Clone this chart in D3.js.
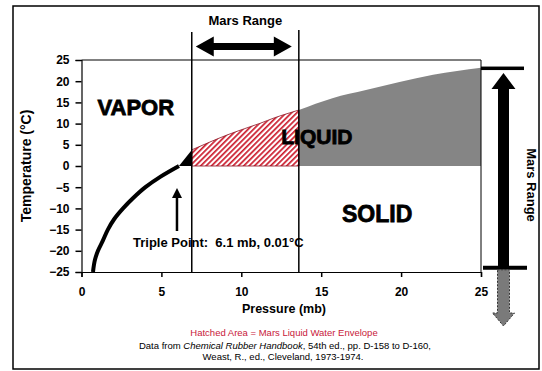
<!DOCTYPE html>
<html><head><meta charset="utf-8">
<script src="https://cdn.jsdelivr.net/npm/d3@7"></script>
<style>
html,body{margin:0;padding:0;background:#fff;}
svg{display:block;}
text{font-family:"Liberation Sans",Arial,sans-serif;}
</style></head>
<body>
<script>
// ---- data ----
const xTicks = [0, 5, 10, 15, 20, 25];
const yTicks = [25, 20, 15, 10, 5, 0, -5, -10, -15, -20, -25];
// sublimation (solid-vapor) curve
const iceTemp = [-25, -22, -20, -17.5, -15, -12.5, -10, -7.5, -5, -2.5, 0.01];
const icePressure = [0.72, 0.85, 1.03, 1.35, 1.65, 2.05, 2.6, 3.25, 4.0, 4.95, 6.1];
// evaporation (liquid-vapor) curve
const liqPressure = [6.1, 6.9, 8.0, 9.1, 10.2, 11.2, 12.1, 13.0, 13.6, 15.7, 17.8, 19.9, 22.0, 25.0];
const liqTemp = [0.01, 3.8, 5.6, 7.3, 8.8, 10.1, 11.4, 12.5, 13.2, 16.0, 17.9, 19.8, 21.5, 23.2];
const marsPressure = [6.9, 13.6];
const marsTemp = [23.1, -24];
const triplePoint = [6.1, 0.01];
const labels = {vapor: "VAPOR", liquid: "LIQUID", solid: "SOLID"};

const W = 542, H = 371;
const svg = d3.select("body").append("svg").attr("width", W).attr("height", H);

const x = d3.scaleLinear().domain([0, 25]).range([81.5, 481]);
const y = d3.scaleLinear().domain([-25, 25]).range([272, 60]);

const defs = svg.append("defs");
const pat = defs.append("pattern").attr("id", "hatch").attr("patternUnits", "userSpaceOnUse")
  .attr("width", 3.8).attr("height", 10).attr("patternTransform", "rotate(45)");
pat.append("rect").attr("width", 3.8).attr("height", 10).attr("fill", "#fff");
pat.append("rect").attr("width", 1.7).attr("height", 10).attr("fill", "#cc1f30");

// outer border
svg.append("rect").attr("x", 13).attr("y", 6).attr("width", 526).attr("height", 363)
  .attr("fill", "none").attr("stroke", "#000").attr("stroke-width", 1.5);

const liq = liqPressure.map((p, i) => [p, liqTemp[i]]);
const area = (lo, hi) => d3.area().curve(d3.curveMonotoneX)
  .x(d => x(d[0])).y0(y(0)).y1(d => y(d[1]))(interp(lo, hi));
function interp(lo, hi) {
  const f = d3.scaleLinear().domain(liqPressure).range(liqTemp);
  const pts = [[lo, f(lo)]];
  liq.forEach(d => { if (d[0] > lo && d[0] < hi) pts.push(d); });
  pts.push([hi, f(hi)]);
  return pts;
}
// gray liquid region beyond Mars range
svg.append("path").attr("d", area(marsPressure[1], 25)).attr("fill", "#858585");
// hatched Mars liquid envelope
svg.append("path").attr("d", area(marsPressure[0], marsPressure[1])).attr("fill", "url(#hatch)")
  .attr("stroke", "#8a1020").attr("stroke-width", 0.8);
// black region near triple point
svg.append("path").attr("d", area(triplePoint[0], marsPressure[0])).attr("fill", "#000");

// plot frame
const g = svg.append("g");
g.append("line").attr("x1", x(0)).attr("x2", x(25)).attr("y1", y(25)).attr("y2", y(25)).attr("stroke", "#000").attr("stroke-width", 1);
g.append("line").attr("x1", x(25)).attr("x2", x(25)).attr("y1", y(25)).attr("y2", y(-25)).attr("stroke", "#000").attr("stroke-width", 1);

// axes
const xAxis = svg.append("g").attr("transform", `translate(0,${y(-25)})`)
  .call(d3.axisBottom(x).tickValues(xTicks).tickSize(5).tickPadding(10));
const yAxis = svg.append("g").attr("transform", `translate(${x(0)},0)`)
  .call(d3.axisLeft(y).tickValues(yTicks).tickSize(6).tickPadding(6));
[xAxis, yAxis].forEach(a => {
  a.select(".domain").attr("stroke", "#000").attr("stroke-width", 1.2);
  a.selectAll(".tick line").attr("stroke", "#000").attr("stroke-width", 1.5);
  a.selectAll(".tick text").attr("fill", "#000").attr("font-size", 12).attr("font-weight", "bold")
    .attr("font-family", "Liberation Sans, Arial, sans-serif");
});

// sublimation curve
svg.append("path").datum(icePressure.map((p, i) => [p, iceTemp[i]]))
  .attr("d", d3.line().curve(d3.curveMonotoneY).x(d => x(d[0])).y(d => y(d[1])))
  .attr("fill", "none").attr("stroke", "#000").attr("stroke-width", 4).attr("stroke-linecap", "butt");

// Mars range vertical lines
marsPressure.forEach((p, i) => {
  svg.append("line").attr("x1", x(p)).attr("x2", x(p)).attr("y1", i ? 30 : 32).attr("y2", y(-25))
    .attr("stroke", "#000").attr("stroke-width", 1.5);
});

// horizontal double arrow
{
  const xl = x(marsPressure[0]) + 4, xr = x(marsPressure[1]) - 7, cy = 46.5, hl = 18, hh = 10, sh = 3.5;
  svg.append("path").attr("d",
    `M${xl},${cy} L${xl + hl},${cy - hh} L${xl + hl},${cy - sh} L${xr - hl},${cy - sh} L${xr - hl},${cy - hh} L${xr},${cy} L${xr - hl},${cy + hh} L${xr - hl},${cy + sh} L${xl + hl},${cy + sh} L${xl + hl},${cy + hh} Z`)
    .attr("fill", "#000");
}
svg.append("text").attr("x", (x(marsPressure[0]) + x(marsPressure[1])) / 2).attr("y", 25)
  .attr("text-anchor", "middle").attr("font-size", 13).attr("font-weight", "bold").text("Mars Range");

// right vertical Mars range arrow
{
  const yt = y(marsTemp[0]), yb = y(marsTemp[1]), cx = 503.5;
  svg.append("rect").attr("x", 481).attr("y", yt - 1.5).attr("width", 43).attr("height", 3.5).attr("fill", "#000");
  svg.append("rect").attr("x", 483).attr("y", yb - 2).attr("width", 44).attr("height", 4).attr("fill", "#000");
  svg.append("path").attr("d", `M${cx},${yt + 5} L${cx + 12},${yt + 21} L${cx + 5.5},${yt + 21} L${cx + 5.5},${yb} L${cx - 5.5},${yb} L${cx - 5.5},${yt + 21} L${cx - 12},${yt + 21} Z`).attr("fill", "#000");
  // gray dashed arrow below
  const g0 = yb + 2, g1 = 313, tip = 326;
  svg.append("path").attr("d", `M${cx - 6},${g0} L${cx + 6},${g0} L${cx + 6},${g1} L${cx + 11},${g1} L${cx},${tip} L${cx - 11},${g1} L${cx - 6},${g1} Z`)
    .attr("fill", "#7a7a7a").attr("stroke", "#333").attr("stroke-width", 1).attr("stroke-dasharray", "2,1.5");
  svg.append("text").attr("transform", `translate(527,185) rotate(90)`).attr("text-anchor", "middle")
    .attr("font-size", 13).attr("font-weight", "bold").text("Mars Range");
}

// region labels
const big = (t, px, py, fs) => svg.append("text").attr("x", px).attr("y", py).attr("font-size", fs)
  .attr("font-weight", "bold").attr("font-family", "DejaVu Sans, sans-serif")
  .attr("stroke", "#000").attr("stroke-width", 0.8).attr("fill", "#000").text(t);
big(labels.vapor, x(1), y(12), 22);
big(labels.liquid, x(12.5), y(5.2), 21);
big(labels.solid, x(16.3), y(-13.2), 23);

// triple point annotation
{
  const px = x(triplePoint[0]) - 2;
  svg.append("line").attr("x1", px).attr("x2", px).attr("y1", 231).attr("y2", 196).attr("stroke", "#000").attr("stroke-width", 2.5);
  svg.append("path").attr("d", `M${px},188 L${px + 5},198 L${px - 5},198 Z`).attr("fill", "#000");
  svg.append("text").attr("x", 133).attr("y", 247).attr("font-size", 13).attr("font-weight", "bold")
    .attr("xml:space", "preserve").style("white-space", "pre")
    .text("Triple Point:  6.1 mb, 0.01°C");
}

// axis titles
svg.append("text").attr("x", 284).attr("y", 313).attr("text-anchor", "middle").attr("font-size", 12.5)
  .attr("font-weight", "bold").text("Pressure (mb)");
svg.append("text").attr("transform", "translate(31,166) rotate(-90)").attr("text-anchor", "middle")
  .attr("font-size", 14).attr("font-weight", "bold").text("Temperature (°C)");

// footer
svg.append("text").attr("x", 284).attr("y", 336).attr("text-anchor", "middle").attr("font-size", 9.5)
  .attr("fill", "#c8203a").text("Hatched Area = Mars Liquid Water Envelope");
const f2 = svg.append("text").attr("x", 285).attr("y", 349).attr("text-anchor", "middle").attr("font-size", 9.5);
f2.append("tspan").text("Data from ");
f2.append("tspan").attr("font-style", "italic").text("Chemical Rubber Handbook");
f2.append("tspan").text(", 54th ed., pp. D-158 to D-160,");
svg.append("text").attr("x", 283).attr("y", 360).attr("text-anchor", "middle").attr("font-size", 9.5)
  .text("Weast, R., ed., Cleveland, 1973-1974.");
</script>
</body></html>
